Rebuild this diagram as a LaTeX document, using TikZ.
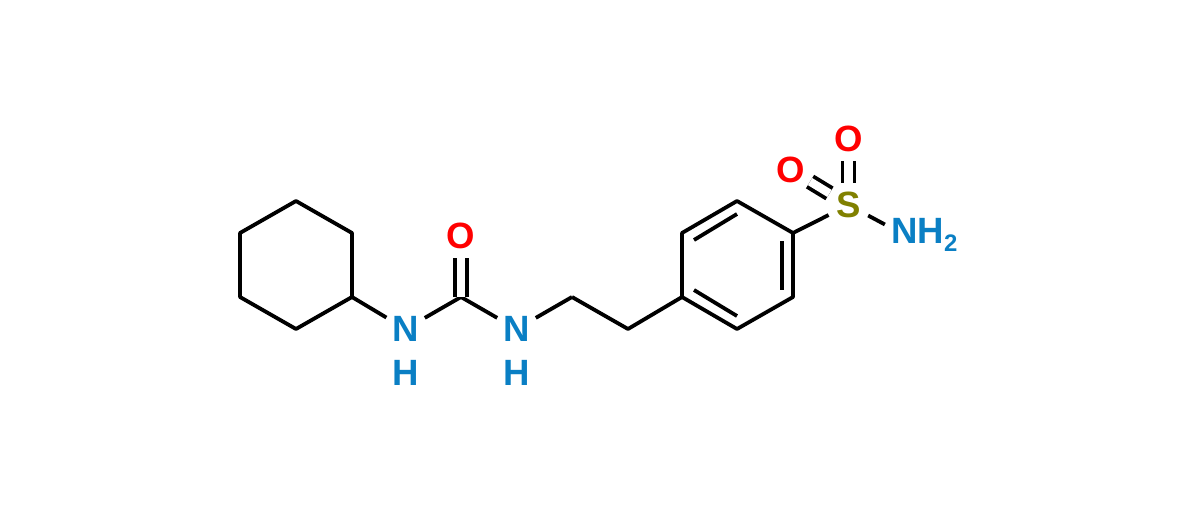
\documentclass[tikz,border=0pt]{standalone}
\usepackage{fontspec}
\setmainfont{Liberation Sans}
\usepackage{xcolor}
\usetikzlibrary{arrows,shapes}
\definecolor{nblue}{HTML}{0A7FC4}
\definecolor{sulfur}{HTML}{808000}
\tikzset{
	atom/.style={circle,inner sep=0pt,minimum size=1.1cm,font=\fontsize{26}{27}\selectfont\bfseries},
	bond/.style={line width=2.7pt,line join=round},
	dbl/.style={line width=2.7pt,double,double distance=5.9pt}
}

\begin{document}
\begin{tikzpicture}[x=0.025cm,y=-0.025cm]
	\useasboundingbox (0,0) rectangle (1200,511);
	%
	\coordinate (c1) at (352,297);
	\coordinate (c2) at (352,233);
	\coordinate (c3) at (296,201);
	\coordinate (c4) at (240,233);
	\coordinate (c5) at (240,297);
	\coordinate (c6) at (296,329);
	\coordinate (c7) at (461,297);
	\coordinate (c8) at (572,297);
	\coordinate (c9) at (628,329);
	\coordinate (r1) at (682,297);
	\coordinate (r2) at (682,233);
	\coordinate (r3) at (737,201);
	\coordinate (r4) at (793,233);
	\coordinate (r5) at (793,297);
	\coordinate (r6) at (737,329);
	\coordinate (i1) at (694,240);
	\coordinate (i2) at (737,214);
	\coordinate (i3) at (782,241);
	\coordinate (i4) at (782,290);
	\coordinate (i5) at (737,316);
	\coordinate (i6) at (694,290);
	%
	\node[atom,text=nblue] (n1) at (405.5,329) {N};
	\node[atom,text=nblue] (h1) at (405.5,373) {H};
	\node[atom,text=nblue] (n2) at (516.5,329) {N};
	\node[atom,text=nblue] (h2) at (516.5,373) {H};
	\node[atom,text=red] (o1) at (461,236) {O};
	\node[atom,text=red] (o2) at (791,170) {O};
	\node[atom,text=red] (o3) at (848.5,139) {O};
	\node[atom,text=sulfur] (s1) at (848.5,205) {S};
	\node[atom,text=nblue] (n3) at (904.5,235) {N\rlap{H\raisebox{-6pt}{\fontsize{17}{17}\selectfont 2}}};
	%
	\draw[bond] (c1) -- (c2) -- (c3) -- (c4) -- (c5) -- (c6) -- cycle;
	\draw[bond] (c1) -- (n1);
	\draw[bond] (n1) -- (c7);
	\draw[bond] (c7) -- (n2);
	\draw[bond] (n2) -- (c8);
	\draw[bond] (c8) -- (c9) -- (r1);
	\draw[dbl] (c7) -- (o1);
	%
	\draw[bond] (r1) -- (r2) -- (r3) -- (r4) -- (r5) -- (r6) -- cycle;
	\draw[bond] (i1) -- (i2);
	\draw[bond] (i3) -- (i4);
	\draw[bond] (i5) -- (i6);
	%
	\draw[bond] (r4) -- (s1);
	\draw[bond] (s1) -- (n3);
	\draw[dbl] (s1) -- (o2);
	\draw[dbl] (s1) -- (o3);
\end{tikzpicture}
\end{document}
